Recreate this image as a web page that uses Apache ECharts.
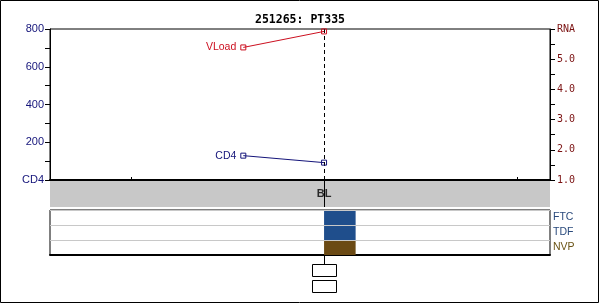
<!DOCTYPE html>
<html>
<head>
<meta charset="utf-8">
<script src="https://cdn.jsdelivr.net/npm/echarts@6/dist/echarts.min.js"></script>
<style>
html,body{margin:0;padding:0;background:#fff;}
#c{width:600px;height:304px;}
</style>
</head>
<body>
<div id="c"></div>
<script>
// ---- data ----
var titleText = '251265: PT335';
var visitDays = [0];
var visitNames = ['BL'];
var xTickDays = [-90, 0, 90];
var xMin = -127.6, xMax = 105.2;

var vloadDays = [-37.6, 0];
var vloadValues = [5.39, 5.92];
var cd4Days = [-37.6, 0];
var cd4Values = [129, 92];

var drugNames = ['FTC', 'TDF', 'NVP'];
var drugStart = [0, 0, 0];
var drugEnd = [14.7, 14.7, 14.7];
var drugColors = ['#1f4e8c', '#1f4e8c', '#6b4a14'];
var drugLabelColors = ['#2a4a7c', '#2a4a7c', '#6b5416'];

var leftZeroLabel = 'CD4';
var rightTopLabel = 'RNA';

// ---- chart ----
var chart = echarts.init(document.getElementById('c'), null, {renderer: 'canvas'});

var navy = '#14147a';
var red = '#cc1020';
var darkRed = '#7a1010';

function pairs(xs, ys) { return xs.map(function (x, i) { return [x, ys[i]]; }); }

var drugData = drugNames.map(function (n, i) { return [drugStart[i], drugEnd[i], i]; });

option = {
  animation: false,
  backgroundColor: '#fff',
  title: {
    text: titleText, left: 'center', top: 9,
    textStyle: {fontFamily: 'DejaVu Sans Mono', fontWeight: 'bold', fontSize: 11.5, color: '#000'}
  },
  graphic: [{
    type: 'rect', shape: {x: 0.5, y: 0.5, width: 598, height: 302},
    style: {fill: 'none', stroke: '#000', lineWidth: 1}, silent: true, z: 100
  }],
  grid: [
    {left: 50, right: 50, top: 29, height: 151, show: true, borderColor: '#000', borderWidth: 1, backgroundColor: '#fff'},
    {left: 50, right: 50, top: 210, height: 45, show: true, borderColor: '#000', borderWidth: 1, backgroundColor: '#fff'},
    {left: 50, right: 50, top: 181, height: 26, show: true, borderWidth: 0, backgroundColor: '#c8c8c8'}
  ],
  xAxis: [
    {gridIndex: 0, type: 'value', min: xMin, max: xMax,
     axisLine: {show: true, onZero: false, lineStyle: {color: '#000', width: 2}},
     axisTick: {show: true, inside: true, length: 3, customValues: xTickDays, lineStyle: {color: '#000'}},
     axisLabel: {show: false}, splitLine: {show: false}},
    {gridIndex: 1, type: 'value', min: xMin, max: xMax,
     axisLine: {show: true, onZero: false, lineStyle: {color: '#000', width: 2}},
     axisTick: {show: false}, axisLabel: {show: false}, splitLine: {show: false}},
    {gridIndex: 2, type: 'value', min: xMin, max: xMax,
     axisLine: {show: false, onZero: false}, axisTick: {show: false}, axisLabel: {show: false}, splitLine: {show: false}}
  ],
  yAxis: [
    {gridIndex: 0, type: 'value', min: 0, max: 800, interval: 200, position: 'left',
     axisLine: {show: true, onZero: false, lineStyle: {color: '#000'}},
     axisTick: {show: true, length: 5, lineStyle: {color: '#000'}},
     minorTick: {show: true, splitNumber: 2, length: 5, lineStyle: {color: '#000'}},
     axisLabel: {margin: 6, color: navy, fontFamily: 'Liberation Sans', fontSize: 11,
       formatter: function (v) { return v === 0 ? leftZeroLabel : String(v); }},
     splitLine: {show: false}},
    {gridIndex: 0, type: 'value', min: 1, max: 6, interval: 1, position: 'right',
     axisLine: {show: true, onZero: false, lineStyle: {color: '#000'}},
     axisTick: {show: true, length: 5, lineStyle: {color: '#000'}},
     minorTick: {show: true, splitNumber: 2, length: 5, lineStyle: {color: '#000'}},
     axisLabel: {margin: 7, color: darkRed, fontFamily: 'DejaVu Sans Mono', fontSize: 10,
       formatter: function (v) { return v === 6 ? rightTopLabel : v.toFixed(1); }},
     splitLine: {show: false}},
    {gridIndex: 1, type: 'category', data: drugNames, inverse: true, position: 'right',
     axisLine: {show: false, onZero: false}, axisTick: {show: false},
     axisLabel: {margin: 3, fontFamily: 'Liberation Sans', fontSize: 10.5,
       color: function (v, i) { return drugLabelColors[drugNames.indexOf(v)]; }},
     splitLine: {show: true, lineStyle: {color: '#c8c8c8', width: 1}}},
    {gridIndex: 2, type: 'value', min: 0, max: 1, show: false, axisLine: {onZero: false}}
  ],
  series: [
    {
      name: 'VLoad', type: 'line', xAxisIndex: 0, yAxisIndex: 1,
      data: pairs(vloadDays, vloadValues),
      symbol: 'rect', symbolSize: 5,
      lineStyle: {color: red, width: 1},
      itemStyle: {color: 'rgba(255,255,255,0)', borderColor: red, borderWidth: 1},
      label: {show: true, position: 'left', distance: 4, color: red, fontFamily: 'Liberation Sans', fontSize: 10.5,
        formatter: function (p) { return p.dataIndex === 0 ? 'VLoad' : ''; }},
      markLine: {
        silent: true, symbol: 'none', label: {show: false},
        lineStyle: {color: '#000', width: 1, type: [4, 3]},
        data: visitDays.map(function (d) { return {xAxis: d}; })
      },
      z: 5
    },
    {
      name: 'CD4', type: 'line', xAxisIndex: 0, yAxisIndex: 0,
      data: pairs(cd4Days, cd4Values),
      symbol: 'rect', symbolSize: 5,
      lineStyle: {color: navy, width: 1},
      itemStyle: {color: 'rgba(255,255,255,0)', borderColor: navy, borderWidth: 1},
      label: {show: true, position: 'left', distance: 4, color: navy, fontFamily: 'Liberation Sans', fontSize: 10.5,
        formatter: function (p) { return p.dataIndex === 0 ? 'CD4' : ''; }},
      z: 5
    },
    {
      name: 'visits', type: 'scatter', xAxisIndex: 2, yAxisIndex: 3,
      data: visitDays.map(function (d) { return [d, 0.5]; }),
      symbolSize: 0,
      label: {show: true, position: 'inside', color: '#000', fontWeight: 'bold', fontFamily: 'Liberation Sans', fontSize: 11,
        formatter: function (p) { return visitNames[p.dataIndex]; }},
      markLine: {
        silent: true, symbol: 'none', label: {show: false},
        lineStyle: {color: '#000', width: 1, type: 'solid'},
        data: visitDays.map(function (d) { return {xAxis: d}; })
      },
      z: 3
    },
    {
      name: 'drugs', type: 'custom', xAxisIndex: 1, yAxisIndex: 2,
      data: drugData,
      renderItem: function (params, api) {
        var row = api.value(2);
        var a = api.coord([api.value(0), row]);
        var b = api.coord([api.value(1), row]);
        var h = api.size([0, 1])[1];
        return {
          type: 'rect',
          shape: {x: a[0], y: a[1] - h / 2 + 1, width: b[0] - a[0], height: h - 1},
          style: {fill: drugColors[row]}
        };
      },
      z: 4
    },
    {
      name: 'visitBoxes', type: 'custom', xAxisIndex: 1, yAxisIndex: 2, clip: false,
      data: visitDays.map(function (d) { return [d]; }),
      renderItem: function (params, api) {
        var cs = params.coordSys;
        var x = Math.round(api.coord([api.value(0), 0])[0]) + 0.5;
        var y0 = cs.y + cs.height;
        return {
          type: 'group',
          children: [
            {type: 'line', shape: {x1: x, y1: y0, x2: x, y2: y0 + 9}, style: {stroke: '#000', lineWidth: 1}},
            {type: 'rect', shape: {x: x - 12, y: y0 + 9.5, width: 24, height: 12}, style: {fill: '#fff', stroke: '#000', lineWidth: 1}},
            {type: 'rect', shape: {x: x - 12, y: y0 + 25.5, width: 24, height: 12}, style: {fill: '#fff', stroke: '#000', lineWidth: 1}}
          ]
        };
      },
      z: 4
    }
  ]
};
chart.setOption(option);
</script>
</body>
</html>
